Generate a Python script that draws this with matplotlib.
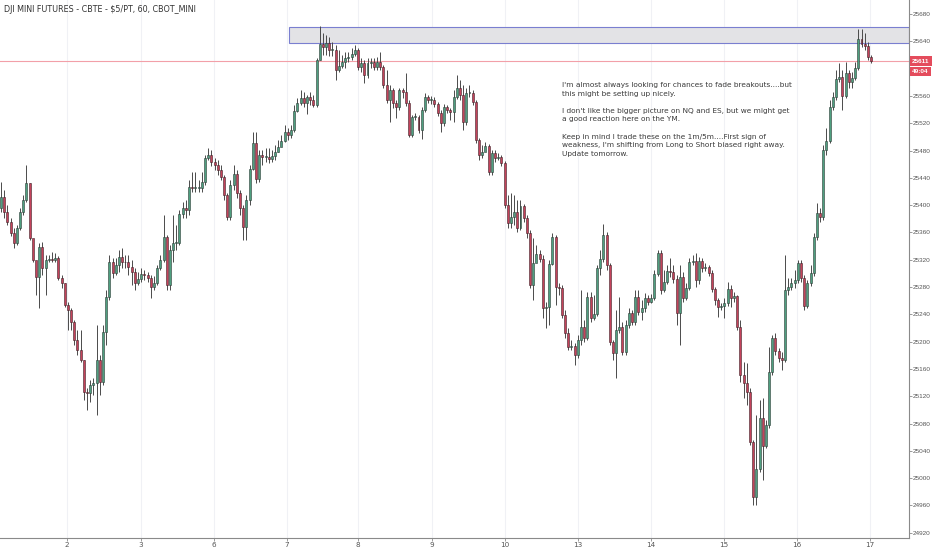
import matplotlib
matplotlib.use("Agg")
import matplotlib.pyplot as plt
import numpy as np
from matplotlib.patches import Rectangle
import matplotlib.transforms as mtransforms

# hourly bars, open = previous close
first_open = 25396
closes = [
    25412, 25390, 25375, 25359, 25345, 25366, 25390, 25407, 25432, 25352,
    25320, 25295, 25339, 25308, 25320, 25321, 25320, 25322, 25293, 25286,
    25254, 25246, 25229, 25202, 25188, 25173, 25126, 25125, 25136, 25139,
    25173, 25141, 25214, 25265, 25317, 25301, 25312, 25324, 25317, 25316,
    25310, 25302, 25286, 25292, 25299, 25298, 25293, 25280, 25286, 25308,
    25320, 25353, 25283, 25334, 25345, 25345, 25387, 25396, 25393, 25427,
    25425, 25425, 25425, 25434, 25469, 25473, 25463, 25459, 25451, 25441,
    25415, 25383, 25429, 25446, 25418, 25396, 25368, 25407, 25453, 25491,
    25438, 25473, 25471, 25471, 25468, 25472, 25478, 25485, 25494, 25507,
    25503, 25510, 25538, 25550, 25557, 25550, 25558, 25554, 25547, 25613,
    25636, 25632, 25638, 25627, 25627, 25598, 25604, 25610, 25616, 25617,
    25621, 25627, 25602, 25608, 25591, 25608, 25610, 25602, 25610, 25602,
    25576, 25554, 25569, 25550, 25544, 25569, 25566, 25550, 25503, 25529,
    25529, 25510, 25539, 25558, 25554, 25554, 25548, 25535, 25520, 25544,
    25539, 25536, 25558, 25572, 25561, 25522, 25564, 25564, 25551, 25495,
    25473, 25478, 25487, 25449, 25476, 25469, 25471, 25462, 25400, 25374,
    25383, 25390, 25366, 25399, 25381, 25359, 25283, 25315, 25328, 25321,
    25249, 25251, 25314, 25353, 25280, 25279, 25239, 25213, 25192, 25194,
    25180, 25202, 25221, 25205, 25265, 25235, 25241, 25308, 25321, 25356,
    25312, 25199, 25183, 25217, 25221, 25185, 25224, 25242, 25229, 25265,
    25243, 25249, 25264, 25258, 25264, 25299, 25330, 25276, 25288, 25303,
    25302, 25292, 25242, 25295, 25264, 25279, 25317, 25318, 25290, 25318,
    25308, 25310, 25301, 25277, 25261, 25251, 25252, 25257, 25277, 25264,
    25267, 25221, 25151, 25139, 25126, 25053, 24972, 25013, 25088, 25047,
    25078, 25156, 25205, 25186, 25176, 25173, 25276, 25280, 25286, 25290,
    25315, 25293, 25252, 25286, 25301, 25353, 25388, 25383, 25481, 25494,
    25544, 25558, 25585, 25588, 25560, 25594, 25580, 25586, 25601, 25643,
    25636, 25633, 25617, 25611,
]
highs = [
    25434, 25422, 25400, 25381, 25366, 25371, 25396, 25415, 25459, 25432,
    25349, 25317, 25345, 25346, 25327, 25327, 25331, 25330, 25325, 25298,
    25286, 25258, 25249, 25232, 25217, 25217, 25173, 25132, 25144, 25146,
    25224, 25180, 25224, 25276, 25327, 25322, 25322, 25334, 25337, 25327,
    25327, 25320, 25308, 25302, 25308, 25305, 25302, 25298, 25296, 25312,
    25327, 25386, 25356, 25342, 25386, 25371, 25393, 25405, 25407, 25437,
    25449, 25449, 25437, 25449, 25473, 25484, 25481, 25469, 25466, 25459,
    25444, 25418, 25437, 25459, 25451, 25422, 25400, 25415, 25459, 25507,
    25507, 25481, 25481, 25484, 25484, 25481, 25488, 25495, 25503, 25517,
    25513, 25517, 25547, 25557, 25569, 25566, 25561, 25566, 25561, 25616,
    25662, 25652, 25649, 25646, 25639, 25635, 25627, 25620, 25624, 25624,
    25630, 25635, 25630, 25616, 25613, 25616, 25616, 25616, 25617, 25624,
    25605, 25598, 25576, 25572, 25554, 25572, 25572, 25594, 25554, 25532,
    25535, 25532, 25544, 25564, 25561, 25560, 25558, 25551, 25539, 25548,
    25547, 25542, 25569, 25591, 25583, 25576, 25572, 25576, 25569, 25554,
    25498, 25488, 25492, 25490, 25481, 25481, 25476, 25473, 25465, 25415,
    25418, 25415, 25407, 25407, 25402, 25386, 25363, 25352, 25342, 25334,
    25327, 25258, 25320, 25359, 25356, 25286, 25283, 25246, 25220, 25202,
    25198, 25210, 25276, 25232, 25273, 25273, 25268, 25312, 25334, 25372,
    25361, 25315, 25202, 25246, 25265, 25229, 25232, 25249, 25246, 25276,
    25276, 25261, 25271, 25268, 25270, 25305, 25334, 25334, 25305, 25312,
    25322, 25312, 25298, 25312, 25302, 25286, 25322, 25327, 25330, 25324,
    25322, 25315, 25312, 25305, 25280, 25264, 25257, 25264, 25287, 25283,
    25273, 25268, 25232, 25170, 25169, 25132, 25056, 25093, 25114, 25117,
    25085, 25192, 25210, 25213, 25191, 25185, 25327, 25293, 25293, 25305,
    25320, 25320, 25298, 25290, 25312, 25359, 25403, 25396, 25488, 25513,
    25554, 25566, 25598, 25608, 25598, 25610, 25598, 25595, 25610, 25658,
    25658, 25652, 25639, 25620,
]
lows = [
    25390, 25381, 25371, 25355, 25337, 25342, 25363, 25386, 25405, 25349,
    25317, 25268, 25249, 25298, 25268, 25317, 25317, 25317, 25290, 25279,
    25251, 25217, 25217, 25195, 25180, 25170, 25114, 25100, 25112, 25122,
    25093, 25122, 25136, 25195, 25261, 25293, 25298, 25302, 25308, 25308,
    25298, 25283, 25276, 25283, 25288, 25290, 25288, 25264, 25276, 25283,
    25305, 25317, 25276, 25276, 25317, 25334, 25342, 25381, 25381, 25386,
    25419, 25419, 25419, 25419, 25429, 25466, 25457, 25451, 25444, 25437,
    25407, 25378, 25378, 25422, 25410, 25386, 25349, 25349, 25400, 25451,
    25432, 25434, 25459, 25463, 25462, 25463, 25466, 25478, 25487, 25492,
    25495, 25498, 25507, 25536, 25547, 25544, 25533, 25547, 25544, 25544,
    25613, 25620, 25620, 25618, 25618, 25583, 25595, 25601, 25601, 25610,
    25613, 25618, 25598, 25595, 25579, 25586, 25601, 25598, 25598, 25598,
    25572, 25550, 25522, 25542, 25528, 25539, 25557, 25545, 25500, 25500,
    25525, 25506, 25497, 25536, 25550, 25548, 25544, 25531, 25507, 25516,
    25535, 25525, 25522, 25556, 25554, 25510, 25517, 25558, 25547, 25491,
    25466, 25469, 25481, 25444, 25444, 25463, 25466, 25457, 25396, 25366,
    25366, 25371, 25361, 25363, 25375, 25352, 25279, 25261, 25317, 25317,
    25235, 25220, 25224, 25312, 25254, 25268, 25235, 25205, 25188, 25188,
    25166, 25176, 25195, 25199, 25202, 25229, 25232, 25238, 25298, 25317,
    25305, 25195, 25173, 25146, 25213, 25180, 25180, 25220, 25224, 25224,
    25239, 25232, 25243, 25254, 25257, 25261, 25296, 25270, 25273, 25285,
    25295, 25286, 25224, 25195, 25258, 25261, 25276, 25312, 25280, 25285,
    25302, 25303, 25296, 25273, 25254, 25236, 25246, 25235, 25252, 25251,
    25258, 25217, 25141, 25117, 25107, 25049, 24961, 24961, 25009, 24997,
    25044, 25073, 25151, 25180, 25170, 25158, 25170, 25268, 25276, 25279,
    25286, 25288, 25246, 25249, 25282, 25296, 25349, 25375, 25378, 25473,
    25491, 25539, 25554, 25580, 25539, 25557, 25572, 25572, 25583, 25598,
    25632, 25627, 25613, 25608,
]

day_labels = ["2", "3", "6", "7", "8", "9", "10", "13", "14", "15", "16", "17"]
day_pos = [20.7, 43.9, 66.8, 89.7, 112.0, 135.2, 158.1, 181.0, 203.9, 226.9, 249.8, 272.7]
price_ticks = [p for p in range(24920, 25681, 40) if p != 25600]

last_price = 25611
countdown = "49:04"
zone_start = 90.4
zone_low, zone_high = 25637.5, 25661

note = ("I'm almost always looking for chances to fade breakouts....but\n"
        "this might be setting up nicely.\n\n"
        "I don't like the bigger picture on NQ and ES, but we might get\n"
        "a good reaction here on the YM.\n\n"
        "Keep in mind I trade these on the 1m/5m....First sign of\n"
        "weakness, I'm shifting from Long to Short biased right away.\n"
        "Update tomorrow.")

small = ["Liberation Sans", "DejaVu Sans"]

closes = np.array(closes, dtype=float)
highs = np.array(highs, dtype=float)
lows = np.array(lows, dtype=float)
opens = np.concatenate([[first_open], closes[:-1]])
idx = np.arange(len(closes))

fig = plt.figure(figsize=(9.32, 5.5), dpi=100)
ax = fig.add_axes([0, 12 / 550, 909 / 932, 538 / 550])

up = closes >= opens
body_lo = np.minimum(opens, closes)
body_h = np.maximum(np.abs(closes - opens), 1.2)

ax.vlines(idx, lows, highs, color="#4a4a4a", lw=0.7, zorder=2)
ax.bar(idx[up], body_h[up], bottom=body_lo[up], width=0.62,
       color="#4f9f80", edgecolor="#2d3b35", lw=0.4, zorder=3)
ax.bar(idx[~up], body_h[~up], bottom=body_lo[~up], width=0.62,
       color="#c4435b", edgecolor="#3f2228", lw=0.4, zorder=3)

ax.set_xlim(-0.31, 284.9)
ax.set_ylim(24912.3, 25700.5)

# resistance zone
ax.add_patch(Rectangle((zone_start, zone_low), 284.9 - zone_start, zone_high - zone_low,
                       facecolor="#e3e3e6", edgecolor="#7a7fd0", lw=0.8, zorder=1))

ax.axhline(last_price, color="#f2a0a8", lw=0.8, zorder=1)

ax.set_xticks(day_pos)
ax.set_xticklabels(day_labels)
ax.set_yticks(price_ticks)
ax.yaxis.tick_right()
ax.grid(axis="x", color="#f0f1f5", lw=0.8)
ax.set_axisbelow(True)

for s in ["top", "left"]:
    ax.spines[s].set_visible(False)
ax.spines["right"].set_color("#8a8a8a")
ax.spines["bottom"].set_color("#8a8a8a")
ax.tick_params(axis="y", colors="#8a8a8a", labelcolor="#555555", labelsize=4.6,
               length=2, width=0.6, pad=1)
ax.tick_params(axis="x", colors="#8a8a8a", labelcolor="#555555", labelsize=5.2,
               length=2.5, width=0.6, pad=0.5)
for lab in ax.get_yticklabels():
    lab.set_family(small)

trans = mtransforms.blended_transform_factory(ax.transAxes, ax.transData)
for val, txt in [(last_price, str(last_price)), (last_price - 15.5, countdown)]:
    ax.text(1.0035, val, txt, transform=trans, ha="left", va="center",
            fontsize=4.6, color="white", fontweight="bold", family=small,
            bbox=dict(boxstyle="square,pad=0.35", fc="#e44c5c", ec="none"))

fig.text(4 / 932, 1 - 10 / 550, "DJI MINI FUTURES - CBTE - $5/PT, 60, CBOT_MINI",
         fontsize=5.8, color="#333333", va="center", ha="left")

fig.text(562 / 932, 1 - 82 / 550, note, fontsize=5.3, color="#3a3a3a",
         va="top", ha="left", linespacing=1.52)

fig.savefig("out.png", dpi=100, facecolor="white")
